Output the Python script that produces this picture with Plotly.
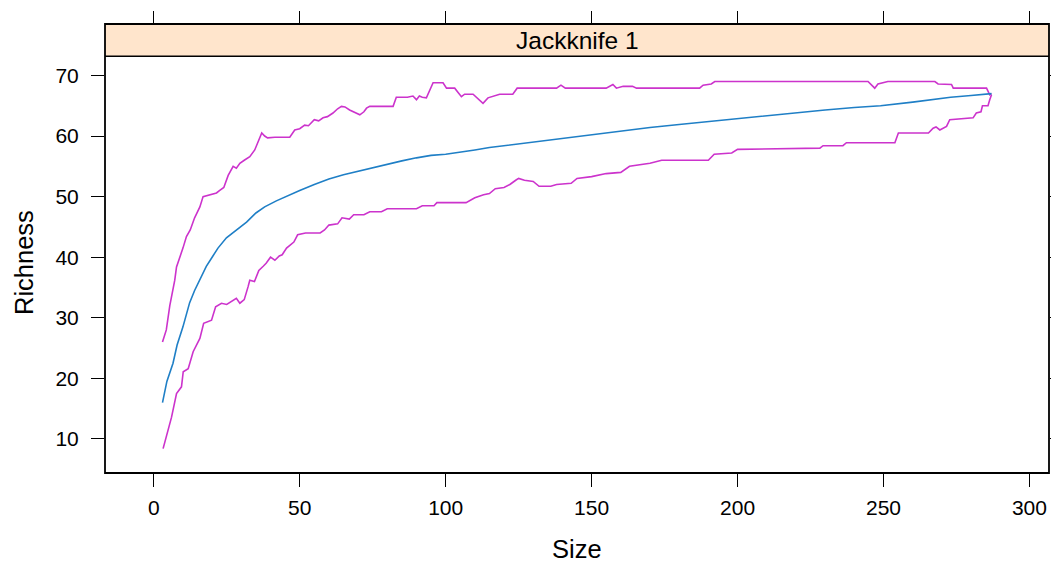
import plotly.graph_objects as go

# ---- data ----
mean_x = [3, 4.5, 6.6, 8, 10, 12.3, 14, 15.8, 18, 20, 22, 24.9, 28, 31.8, 35, 38, 42, 46, 50, 55,
          60, 65, 70, 75, 80, 85, 90, 95, 100, 105, 110, 115, 120, 125, 130, 140, 150, 160, 170,
          180, 190, 200, 210, 221, 230, 240, 249, 260, 273, 280, 287]
mean_y = [16, 19.5, 22.5, 25.5, 28.5, 32.5, 34.5, 36.2, 38.5, 40, 41.5, 43.2, 44.3, 45.8, 47.3, 48.3,
          49.3, 50.2, 51, 52, 52.9, 53.6, 54.2, 54.8, 55.4, 55.9, 56.4, 56.8, 57, 57.3, 57.7, 58.1,
          58.4, 58.7, 59.1, 59.6, 60.3, 60.8, 61.4, 61.9, 62.4, 62.9, 63.4, 63.9, 64.3, 64.7, 65.0,
          65.6, 66.4, 66.7, 67]

upper_x = [3, 4.3, 5.5, 6.6, 7.2, 7.8, 9, 10, 11.2, 12.5, 14, 15.8, 16.9, 19, 21.5, 22.5, 24, 25.5,
           27.2, 28.3, 29.5, 31, 32.9, 34.6, 36, 37, 38, 39, 41.5, 44, 46.6, 48.3, 50, 51.7, 53, 55,
           56.5, 58, 59.5, 61.4, 63, 64.3, 65.5, 67.1, 70.6, 72, 72.9, 74, 82, 83.1, 86.9, 88.8, 90,
           91, 92, 93.4, 95.7, 99.1, 100.3, 103.1, 105.4, 106.5, 109.4, 112.8, 114.5, 118.5, 123,
           124.5, 138, 139.5, 141, 152.8, 155, 157.3, 158.5, 160.8, 164, 165.4, 187, 188.2, 191,
           192.2, 244.7, 247, 248.1, 251.5, 267.6, 268.7, 273.3, 273.9, 285.3, 286.4, 287]
upper_y = [26, 28, 32, 34.5, 36.2, 38.4, 40, 41.5, 43.4, 44.5, 46.5, 48.3, 50, 50.3, 50.6, 51, 51.5,
           53.5, 55, 54.7, 55.5, 56, 56.6, 57.7, 59.5, 60.5, 60, 59.7, 59.8, 59.8, 59.8, 61, 61.2,
           61.8, 61.7, 62.7, 62.5, 63, 63.2, 63.8, 64.5, 64.9, 64.8, 64.3, 63.5, 64, 64.6, 64.9,
           64.9, 66.4, 66.4, 66.6, 66, 66.6, 66.4, 66.3, 68.8, 68.8, 67.9, 67.9, 66.5, 66.9, 66.9,
           65.4, 66.3, 66.9, 66.9, 67.9, 67.9, 68.4, 67.9, 67.9, 67.9, 68.5, 67.9, 68.2, 68.2, 67.9,
           67.9, 68.4, 68.6, 69, 69, 67.9, 68.6, 69, 69, 68.6, 68.5, 67.9, 67.9, 66.8, 67]

lower_x = [3.2, 4.3, 6.1, 7.8, 9.5, 10.1, 11.8, 13.5, 15.8, 17.1, 19.8, 21.2, 23.2, 25, 26.5, 28.3,
           29.5, 31, 32.3, 32.9, 34.5, 36, 37.5, 38.5, 40, 41.5, 43, 44, 45.5, 46.6, 48, 49.3, 52,
           57, 58.5, 60, 63, 64.5, 67, 68.5, 72, 74, 78, 80, 90, 92, 96, 97, 107, 110, 113, 115,
           117, 120, 122, 124, 125, 127, 130, 132, 136, 138, 143, 145, 150, 155, 160, 163, 168, 170,
           174, 190, 192, 198, 200, 221.3, 228.2, 229.3, 236.1, 237.3, 253.9, 255.1, 265.4, 267,
           268, 269.3, 271.6, 272.7, 280.7, 281.8, 283.4, 283.9, 285.8, 286.4, 287]
lower_y = [8.4, 10.3, 13.6, 17.5, 18.6, 21.1, 21.6, 24.4, 26.6, 29.1, 29.6, 31.8, 32.4, 32.2, 32.6,
           33.2, 32.4, 33, 35.1, 36.2, 36, 37.8, 38.5, 39, 40, 39.5, 40.2, 40.4, 41.5, 42, 42.5,
           43.7, 44, 44, 44.5, 45.3, 45.5, 46.5, 46.3, 47, 47, 47.5, 47.5, 48, 48, 48.5, 48.5, 49,
           49, 49.8, 50.3, 50.5, 51.3, 51.5, 52, 52.7, 53, 52.7, 52.5, 51.7, 51.7, 52, 52.2, 53,
           53.3, 53.8, 54, 55, 55.3, 55.5, 56, 56, 57, 57.2, 57.8, 58, 58, 58.4, 58.4, 58.9, 58.9,
           60.5, 60.5, 61.3, 61.5, 61, 61.6, 62.7, 63, 63.8, 64, 65, 65, 66, 66.8]

x_ticks = [0, 50, 100, 150, 200, 250, 300]
y_ticks = [10, 20, 30, 40, 50, 60, 70]
strip_title = "Jackknife 1"
x_title = "Size"
y_title = "Richness"

# ---- style ----
BLUE = "#1f7fc6"
MAGENTA = "#cc33cc"
STRIP = "#ffe5cc"
FONT = "Liberation Sans, Arial, sans-serif"
XR = [-16.7, 306.7]
YR = [4.38, 73.17]
DOM_TOP = 0.9282

fig = go.Figure()
fig.add_trace(go.Scatter(x=upper_x, y=upper_y, mode="lines",
                         line=dict(color=MAGENTA, width=1.6), hoverinfo="skip"))
fig.add_trace(go.Scatter(x=lower_x, y=lower_y, mode="lines",
                         line=dict(color=MAGENTA, width=1.6), hoverinfo="skip"))
fig.add_trace(go.Scatter(x=mean_x, y=mean_y, mode="lines",
                         line=dict(color=BLUE, width=1.6), hoverinfo="skip"))
# invisible trace to realise the mirrored top/right axes
fig.add_trace(go.Scatter(x=mean_x, y=mean_y, xaxis="x2", yaxis="y2", mode="lines",
                         opacity=0, hoverinfo="skip"))

tickfont = dict(family=FONT, size=21, color="black")
fig.update_layout(
    width=1051, height=562,
    margin=dict(l=105, r=2, t=24, b=89),
    paper_bgcolor="white", plot_bgcolor="white",
    showlegend=False,
    xaxis=dict(range=XR, tickvals=x_ticks, ticks="outside", ticklen=13, tickwidth=1.4,
               tickcolor="black", showgrid=False, zeroline=False, showline=False,
               tickfont=tickfont, ticklabelstandoff=3, anchor="y", automargin=False),
    yaxis=dict(range=YR, domain=[0, DOM_TOP], tickvals=y_ticks, ticks="outside", ticklen=13,
               tickwidth=1.4, tickcolor="black", showgrid=False, zeroline=False, showline=False,
               tickfont=tickfont, ticklabelstandoff=8, anchor="x", automargin=False),
    xaxis2=dict(range=XR, tickvals=x_ticks, ticks="outside", ticklen=13, tickwidth=1.4,
                tickcolor="black", showgrid=False, zeroline=False, showline=False,
                showticklabels=False, overlaying="x", side="top", anchor="free", position=1,
                automargin=False),
    yaxis2=dict(range=YR, domain=[0, DOM_TOP], tickvals=y_ticks, ticks="outside", ticklen=13,
                tickwidth=1.4, tickcolor="black", showgrid=False, zeroline=False,
                showline=False, showticklabels=False, overlaying="y", side="right",
                anchor="x2", automargin=False),
)

shapes = [
    dict(type="rect", xref="paper", yref="paper", x0=0, x1=1, y0=DOM_TOP, y1=1,
         fillcolor=STRIP, line=dict(width=0), layer="below"),
    dict(type="line", xref="paper", yref="paper", x0=0, x1=1, y0=DOM_TOP, y1=DOM_TOP,
         line=dict(color="black", width=1.6)),
    dict(type="rect", xref="paper", yref="paper", x0=0, x1=1, y0=0, y1=1,
         line=dict(color="black", width=1.8), fillcolor="rgba(0,0,0,0)"),
]
fig.update_layout(shapes=shapes)

fig.add_annotation(text=strip_title, xref="paper", yref="paper", x=0.5,
                   y=(DOM_TOP + 1) / 2, xanchor="center", yanchor="middle", showarrow=False,
                   font=dict(family=FONT, size=24.5, color="black"))
fig.add_annotation(text=x_title, xref="paper", yref="paper", x=0.5, y=-(549 - 472.7) / 448.4,
                   xanchor="center", yanchor="middle", showarrow=False,
                   font=dict(family=FONT, size=25.5, color="black"))
fig.add_annotation(text=y_title, xref="paper", yref="paper", x=-(105 - 24) / 944,
                   y=(472.7 - 263) / 448.4, xanchor="center", yanchor="middle", textangle=-90,
                   showarrow=False, font=dict(family=FONT, size=25.5, color="black"))

fig.write_html("out.html")
